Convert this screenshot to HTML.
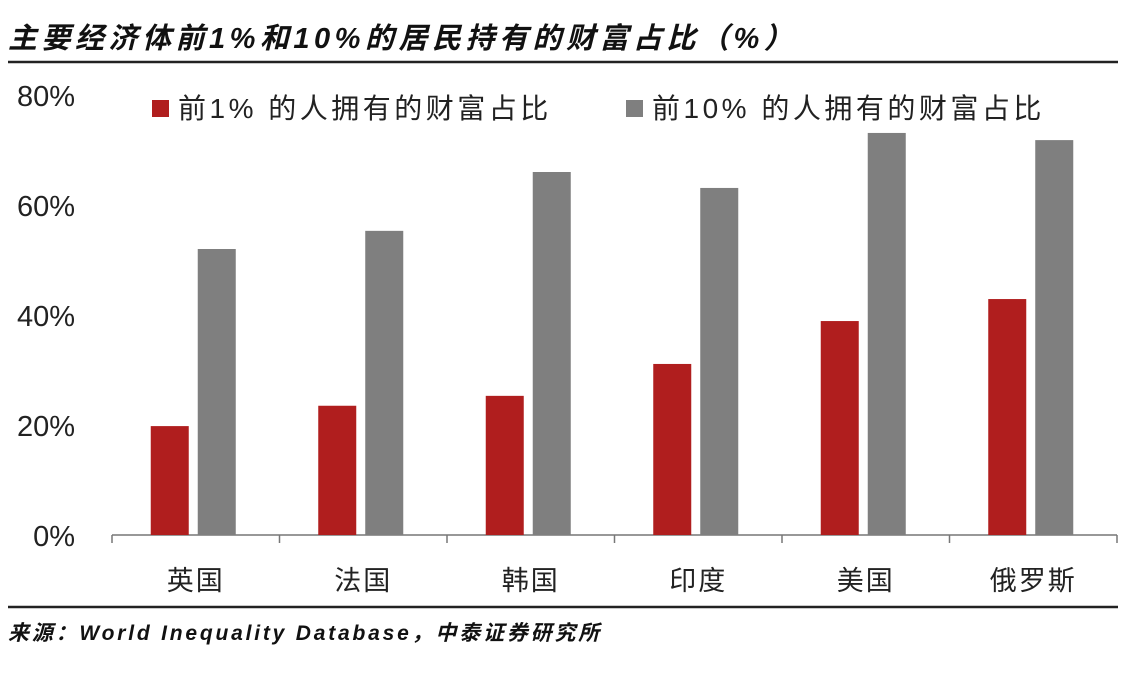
<!DOCTYPE html>
<html><head><meta charset="utf-8">
<style>
body{margin:0;background:#fff;width:1138px;height:674px;overflow:hidden;font-family:"Liberation Sans","Noto Sans CJK SC",sans-serif;}
</style></head>
<body>
<svg id="c" width="1138" height="674" xmlns="http://www.w3.org/2000/svg">
<text x="8" y="48" font-size="29" font-weight="bold" font-style="italic" fill="#111" letter-spacing="4.5" font-family="Liberation Sans, Noto Sans CJK SC, sans-serif">主要经济体前1%和10%的居民持有的财富占比（%）</text>
<line x1="8" y1="62" x2="1118" y2="62" stroke="#222" stroke-width="2.5"/>
<line x1="8" y1="607" x2="1118" y2="607" stroke="#222" stroke-width="2.5"/>
<text x="8" y="640" font-size="21" font-weight="bold" font-style="italic" fill="#111" letter-spacing="2.8" font-family="Liberation Sans, Noto Sans CJK SC, sans-serif">来源：World Inequality Database，中泰证券研究所</text>
<g id="plot"></g>
</svg>
<script>
const categories=["英国","法国","韩国","印度","美国","俄罗斯"];
const top1=[19.8,23.5,25.3,31.1,38.9,42.9];
const top10=[52.0,55.3,66.0,63.1,73.1,71.8];
const yTicks=[0,20,40,60,80];
const seriesNames=["前1% 的人拥有的财富占比","前10% 的人拥有的财富占比"];
const NS="http://www.w3.org/2000/svg";
const g=document.getElementById('plot');
const x0=112,x1=1117,y0=535,yTop=95;
const y=v=>y0-(v/80)*(y0-yTop);
const band=(x1-x0)/categories.length;
function mk(t,a,txt){const e=document.createElementNS(NS,t);for(const k in a)e.setAttribute(k,a[k]);if(txt!=null)e.textContent=txt;g.appendChild(e);return e;}
yTicks.forEach(t=>{const e=mk('text',{x:75,y:y(t)+11,'font-size':29,'text-anchor':'end',fill:'#222'},t+'%');

});
const ax=mk('line',{x1:x0,y1:y0,x2:x1,y2:y0,stroke:'#777','stroke-width':1.5});


for(let i=0;i<=categories.length;i++){const t=mk('line',{x1:x0+i*band,y1:y0,x2:x0+i*band,y2:y0+8,stroke:'#777','stroke-width':1.5});

}
const bw=38;
categories.forEach((c,i)=>{const cx=x0+band*(i+0.5);
const r=mk('rect',{x:cx-45,y:y(top1[i]),width:bw,height:y0-y(top1[i]),fill:'#b01e1e'});


const b=mk('rect',{x:cx+2,y:y(top10[i]),width:bw,height:y0-y(top10[i]),fill:'#7f7f7f'});


const l=mk('text',{x:cx,y:590,'font-size':27,'text-anchor':'middle',fill:'#222','letter-spacing':2},c);

});
const colors=['#b01e1e','#7f7f7f'],lx=[152,626];
seriesNames.forEach((n,i)=>{const s=mk('rect',{x:lx[i],y:100,width:17,height:17,fill:colors[i]});


const t=mk('text',{x:lx[i]+26,y:118,'font-size':28,fill:'#222','letter-spacing':3.5},n);

});
</script>
</body></html>
